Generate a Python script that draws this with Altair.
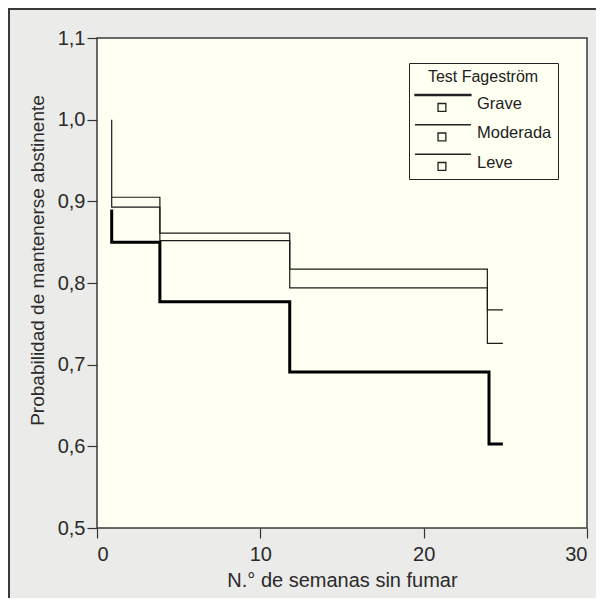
import altair as alt
import pandas as pd

# ---- data (Kaplan-Meier style step curves) ----
groups = ["Grave", "Moderada", "Leve"]

weeks_grave = [0.9, 0.9, 3.85, 11.8, 24.0, 24.85]
surv_grave = [0.89, 0.85, 0.777, 0.691, 0.603, 0.603]

weeks_moderada = [0.9, 3.85, 11.8, 23.9, 24.85]
surv_moderada = [0.905, 0.861, 0.817, 0.767, 0.767]

weeks_leve = [0.9, 0.9, 3.85, 11.8, 23.9, 24.85]
surv_leve = [1.0, 0.893, 0.852, 0.794, 0.726, 0.726]

x_ticks = [0, 10, 20, 30]
y_ticks = [0.5, 0.6, 0.7, 0.8, 0.9, 1.0, 1.1]

rows = []
for g, ws, ss in [("Grave", weeks_grave, surv_grave),
                  ("Moderada", weeks_moderada, surv_moderada),
                  ("Leve", weeks_leve, surv_leve)]:
    for i, (w, s) in enumerate(zip(ws, ss)):
        rows.append({"grupo": g, "semanas": w, "prob": s, "idx": i})
df = pd.DataFrame(rows)

FONT = "Liberation Sans"
INK = "#1a1a1a"

# legend symbols: a line above a small open square (scaled by sqrt(size)/2)
thin_sym = "M-1.07,-0.57H2.79M0.52,0H1.06V0.54H0.52Z"
thick_sym = "M-1.07,-0.62H2.79V-0.55H-1.07ZM0.52,0H1.06V0.54H0.52Z"

x_enc = alt.X("semanas:Q", scale=alt.Scale(domain=[0, 30], nice=False),
              axis=alt.Axis(values=x_ticks, title="N.° de semanas sin fumar",
                            titleFontSize=20, labelPadding=6, titlePadding=6))
y_enc = alt.Y("prob:Q", scale=alt.Scale(domain=[0.5, 1.1], nice=False, zero=False),
              axis=alt.Axis(values=y_ticks,
                            labelExpr="replace(format(datum.value, '.1f'), '.', ',')",
                            title="Probabilidad de mantenerse abstinente",
                            titleFontSize=19, labelPadding=2, titlePadding=10,
                            titleY=222))

base = alt.Chart(df)

thick = base.transform_filter("datum.grupo == 'Grave'").mark_line(
    interpolate="step-after", color="#000", strokeWidth=3
).encode(x=x_enc, y=y_enc, detail="grupo:N", order="idx:Q")

thin = base.transform_filter("datum.grupo != 'Grave'").mark_line(
    interpolate="step-after", color=INK, strokeWidth=1.2
).encode(x="semanas:Q", y="prob:Q", detail="grupo:N", order="idx:Q")

legend_pts = base.mark_point(opacity=0, color=INK, filled=False).encode(
    x="semanas:Q",
    y="prob:Q",
    shape=alt.Shape("grupo:N",
                    scale=alt.Scale(domain=groups, range=[thick_sym, thin_sym, thin_sym]),
                    legend=alt.Legend(
                        title="Test Fageström",
                        orient="none", legendX=312, legendY=25,
                        padding=6, strokeColor="#222", fillColor="#fffff2",
                        titleFont=FONT, titleFontSize=16, titleFontWeight="normal",
                        titleColor="#222", titleAnchor="middle", titlePadding=3,
                        labelFont=FONT, labelFontSize=16.5, labelColor="#222",
                        labelOffset=31, rowPadding=3.5,
                        symbolSize=841, symbolOpacity=1, symbolStrokeWidth=1.3,
                        symbolStrokeColor="#222", symbolFillColor="transparent",
                    )),
)

frame = alt.Chart(pd.DataFrame({"a": [0]})).mark_rect(
    filled=False, stroke="#3a3a3a", strokeWidth=2
).encode(
    x=alt.value(-88), x2=alt.value(620), y=alt.value(-29), y2=alt.value(620)
)

chart = alt.layer(thick, thin, legend_pts, frame).properties(
    width=490, height=490,
    autosize=alt.AutoSizeParams(type="none"),
    padding={"left": 89, "top": 30, "right": 9, "bottom": 70},
    background="#ebebe9",
).configure_view(
    fill="#fffff2", stroke="#3a3a3a", strokeWidth=1.5
).configure_axis(
    domain=False, grid=False, tickColor="#333", tickSize=10, tickWidth=1.2,
    labelFont=FONT, labelFontSize=20, labelColor="#2a2a2a",
    titleFont=FONT, titleFontWeight="normal", titleColor="#2a2a2a",
)

chart.save("out.html", embed_options={"renderer": "svg", "actions": False})
